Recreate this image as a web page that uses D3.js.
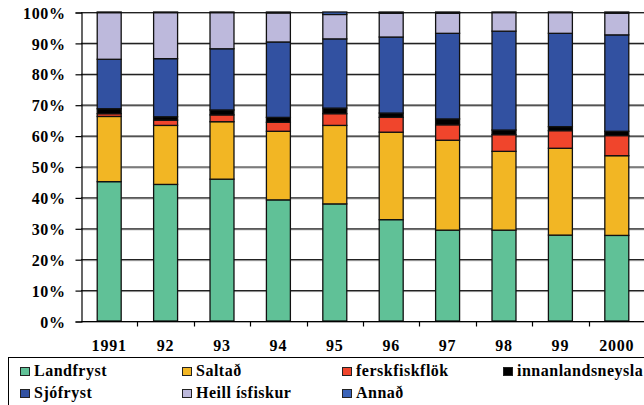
<!DOCTYPE html>
<html>
<head>
<meta charset="utf-8">
<script src="https://cdn.jsdelivr.net/npm/d3@7"></script>
<style>
body { margin: 0; background: #fff; }
</style>
</head>
<body>
<svg id="chart" width="644" height="405"></svg>
<script>
var years = ['1991', '92', '93', '94', '95', '96', '97', '98', '99', '2000']
var seriesNames = ['Landfryst', 'Saltað', 'ferskfiskflök', 'innanlandsneysla', 'Sjófryst', 'Heill ísfiskur', 'Annað']
var seriesColors = ['#60c197', '#f2b624', '#f0452c', '#000000', '#3251a1', '#bdb9dc', '#3a63b8']

// shares in percent, per year
var landfryst = [45.1, 44.2, 45.9, 39.2, 37.9, 32.8, 29.4, 29.4, 27.8, 27.7]
var saltad = [21.1, 19.1, 18.6, 22.2, 25.4, 28.3, 29.1, 25.5, 28.1, 25.8]
var ferskfiskflok = [0.9, 1.7, 2.2, 2.9, 3.8, 4.8, 5.0, 5.4, 5.7, 6.5]
var innanlands = [1.6, 1.1, 1.6, 1.6, 1.8, 1.4, 1.9, 1.5, 1.3, 1.4]
var sjofryst = [16.0, 18.8, 19.8, 24.4, 22.4, 24.6, 27.7, 32.0, 30.2, 31.2]
var heill = [15.1, 14.9, 11.7, 9.4, 7.9, 7.7, 6.5, 6.0, 6.7, 7.0]
var annad = [0.2, 0.2, 0.2, 0.3, 0.8, 0.4, 0.4, 0.2, 0.2, 0.4]
var yTicks = [0, 0.1, 0.2, 0.3, 0.4, 0.5, 0.6, 0.7, 0.8, 0.9, 1]

var allSeries = [landfryst, saltad, ferskfiskflok, innanlands, sjofryst, heill, annad]
var table = years.map(function (y, i) {
    var row = {year: y}
    seriesNames.forEach(function (s, j) { row[s] = allSeries[j][i] })
    return row
})

var serif = "'Liberation Serif', 'Times New Roman', serif"
var margin = {top: 12, left: 81, right: 0, bottom: 84}
var width = 645, height = 405
var svg = d3.select('#chart')

var x = d3.scaleBand().domain(years)
    .range([margin.left, width - margin.right])
    .paddingInner(0.575).paddingOuter(0.2875)
var y = d3.scaleLinear().domain([0, 1]).range([height - margin.bottom, margin.top])

var stack = d3.stack().keys(seriesNames).offset(d3.stackOffsetExpand)
var layers = stack(table)

// gridlines
var grid = svg.append('g')
grid.selectAll('line.shadow').data(yTicks).enter().append('line')
    .attr('x1', margin.left).attr('x2', 644)
    .attr('y1', function (d) { return y(d) + 1.5 }).attr('y2', function (d) { return y(d) + 1.5 })
    .style('stroke', '#aaa').style('stroke-width', 1)
grid.selectAll('line.main').data(yTicks).enter().append('line')
    .attr('x1', margin.left).attr('x2', 644)
    .attr('y1', function (d) { return y(d) + 0.5 }).attr('y2', function (d) { return y(d) + 0.5 })
    .style('stroke', '#222').style('stroke-width', 1.2)

// bars
svg.append('g').selectAll('g')
    .data(layers)
    .enter()
    .append('g')
    .style('fill', function (d, i) { return seriesColors[i] })
    .selectAll('rect')
    .data(function (d) { return d })
    .enter()
    .append('rect')
    .attr('x', function (d) { return x(d.data.year) })
    .attr('width', x.bandwidth())
    .attr('y', function (d) { return y(d[1]) })
    .attr('height', function (d) { return y(d[0]) - y(d[1]) })
    .style('stroke', '#111')
    .style('stroke-width', 1.3)

// y axis
var yAxis = d3.axisLeft(y).tickValues(yTicks).tickSize(6).tickPadding(10)
    .tickFormat(function (d) { return Math.round(d * 100) + '%' })
var gy = svg.append('g').attr('transform', 'translate(' + (margin.left + 0.5) + ',0.5)').call(yAxis)
gy.select('.domain').style('stroke', '#000').style('stroke-width', 1.2)
gy.selectAll('line').style('stroke', '#000').style('stroke-width', 1.2)
gy.selectAll('text')
    .style('font-family', serif).style('font-weight', 'bold')
    .style('font-size', '16px').style('letter-spacing', '0.6px').style('fill', '#000')
    .attr('dy', '0.35em')

// x axis: ticks at band boundaries
var gx = svg.append('g').attr('transform', 'translate(0,' + (y(0) + 0.5) + ')')
gx.append('line').attr('x1', margin.left).attr('x2', 644)
    .style('stroke', '#000').style('stroke-width', 1.2)
gx.selectAll('line.tick').data(years.slice(1)).enter().append('line')
    .attr('x1', function (d) { return Math.round(x(d) - x.step() * x.paddingInner() / 2) + 0.5 })
    .attr('x2', function (d) { return Math.round(x(d) - x.step() * x.paddingInner() / 2) + 0.5 })
    .attr('y1', 0).attr('y2', 5)
    .style('stroke', '#000').style('stroke-width', 1.2)
gx.selectAll('text').data(years).enter().append('text')
    .attr('x', function (d) { return x(d) + x.bandwidth() / 2 })
    .attr('y', 29)
    .attr('text-anchor', 'middle')
    .style('font-family', serif).style('font-weight', 'bold')
    .style('font-size', '16px').style('letter-spacing', '0.8px')
    .text(function (d) { return d })

// legend
svg.append('rect').attr('x', 8.5).attr('y', 357.5).attr('width', 660).attr('height', 60)
    .style('fill', 'none').style('stroke', '#000').style('stroke-width', 1)
var legendX = [20, 182, 342, 503]
var legendY = [367, 389]
var legend = svg.append('g').selectAll('g')
    .data(seriesNames)
    .enter()
    .append('g')
    .attr('transform', function (d, i) {
        return 'translate(' + legendX[i % 4] + ',' + legendY[Math.floor(i / 4)] + ')'
    })
legend.append('rect').attr('x', 0.5).attr('y', 0.5).attr('width', 9).attr('height', 8)
    .style('fill', function (d, i) { return seriesColors[i] })
    .style('stroke', '#222').style('stroke-width', 1)
legend.append('text').attr('x', 14).attr('y', 9)
    .style('font-family', serif).style('font-weight', 'bold')
    .style('font-size', '16px').style('letter-spacing', '0.5px')
    .text(function (d) { return d })
</script>
</body>
</html>
